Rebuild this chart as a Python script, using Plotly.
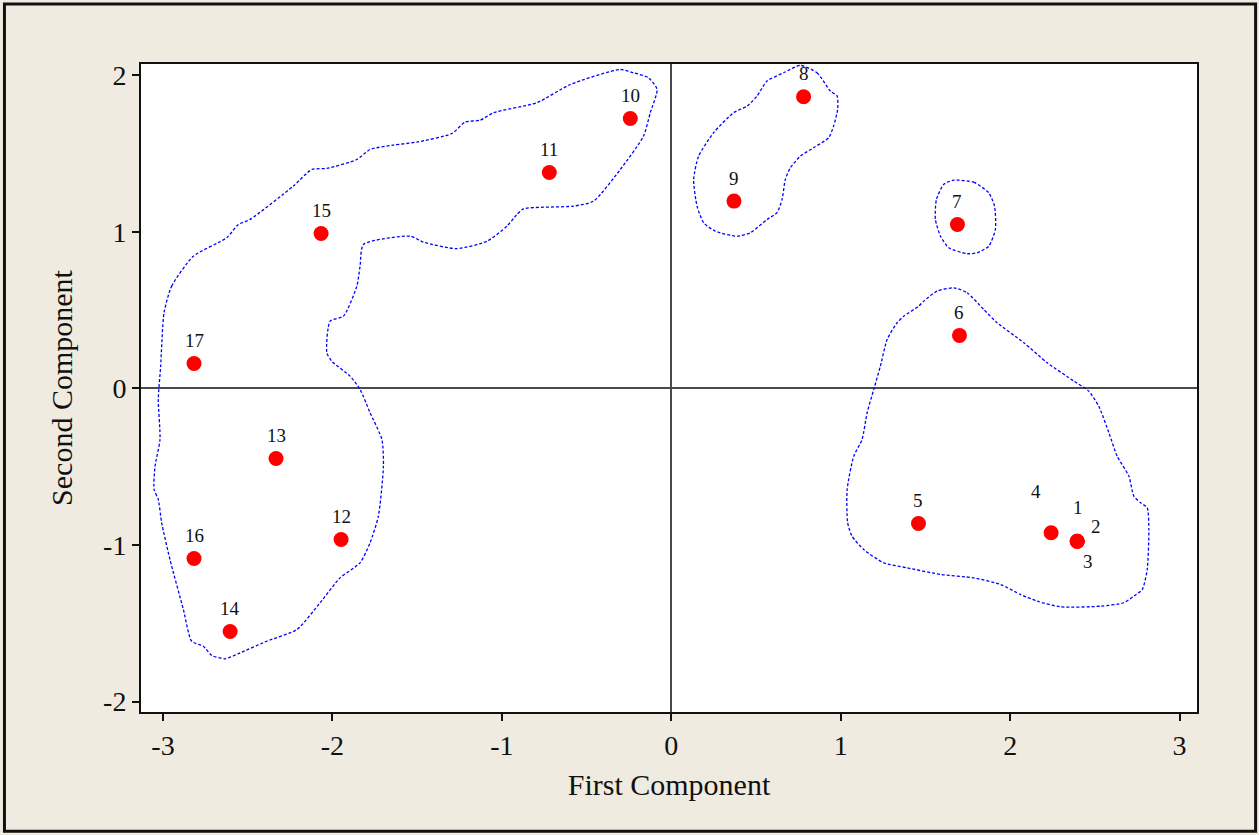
import plotly.graph_objects as go

# ---- data -------------------------------------------------------------
labels = ["1", "2", "3", "4", "5", "6", "7", "8", "9", "10",
          "11", "12", "13", "14", "15", "16", "17"]
first_comp = [2.396, 2.396, 2.396, 2.242, 1.459, 1.701, 1.689, 0.781, 0.370, -0.242,
              -0.720, -1.949, -2.333, -2.604, -2.067, -2.817, -2.817]
second_comp = [-0.976, -0.976, -0.976, -0.922, -0.863, 0.339, 1.048, 1.864, 1.197, 1.725,
               1.380, -0.965, -0.447, -1.553, 0.990, -1.086, 0.160]

# cluster outlines (data units)
left_x = [-2.994, -2.949, -2.821, -2.624, -2.555, -2.486, -2.231, -2.122, -2.033, -1.856,
          -1.778, -1.640, -1.502, -1.295, -1.217, -1.128, -1.049, -0.793, -0.596, -0.301,
          -0.223, -0.134, -0.084, -0.124, -0.164, -0.301, -0.459, -0.577, -0.872, -0.911,
          -0.970, -1.088, -1.266, -1.463, -1.541, -1.817, -1.837, -1.856, -1.935, -2.014,
          -2.033, -2.004, -1.896, -1.837, -1.778, -1.708, -1.699, -1.729, -1.778, -1.837,
          -1.955, -2.073, -2.210, -2.388, -2.545, -2.634, -2.712, -2.762, -2.831, -2.880,
          -2.959, -3.008, -3.028, -3.053, -3.047, -3.018, -3.028, -3.014]
left_y = [0.484, 0.654, 0.845, 0.963, 1.048, 1.080, 1.293, 1.399, 1.406, 1.463,
          1.527, 1.555, 1.574, 1.629, 1.702, 1.714, 1.762, 1.826, 1.942, 2.038,
          2.017, 1.985, 1.911, 1.762, 1.612, 1.399, 1.197, 1.165, 1.148, 1.112,
          1.037, 0.941, 0.893, 0.935, 0.973, 0.920, 0.781, 0.654, 0.462, 0.430,
          0.228, 0.174, 0.079, -0.006, -0.155, -0.326, -0.496, -0.816, -0.986, -1.114,
          -1.210, -1.369, -1.540, -1.615, -1.689, -1.727, -1.706, -1.647, -1.615, -1.412,
          -1.093, -0.858, -0.709, -0.645, -0.496, -0.326, -0.070, 0.142]

top_x = [0.762, 0.860, 0.939, 0.979, 0.982, 0.958, 0.929, 0.840, 0.762, 0.703,
         0.673, 0.654, 0.624, 0.565, 0.467, 0.388, 0.260, 0.191, 0.152, 0.132,
         0.161, 0.250, 0.368, 0.447, 0.506, 0.565, 0.663]
top_y = [2.064, 2.017, 1.900, 1.868, 1.783, 1.676, 1.602, 1.538, 1.484, 1.410,
         1.335, 1.208, 1.123, 1.080, 0.995, 0.973, 1.005, 1.059, 1.165, 1.335,
         1.484, 1.634, 1.762, 1.804, 1.868, 1.964, 2.017]

small_x = [1.667, 1.785, 1.874, 1.908, 1.913, 1.874, 1.805, 1.746, 1.638, 1.589,
           1.559, 1.565, 1.608]
small_y = [1.331, 1.318, 1.250, 1.165, 1.016, 0.909, 0.867, 0.861, 0.899, 0.973,
           1.080, 1.208, 1.304]

right_x = [1.667, 1.746, 1.844, 1.923, 2.081, 2.219, 2.376, 2.464, 2.523, 2.583,
           2.632, 2.701, 2.730, 2.770, 2.809, 2.819, 2.809, 2.780, 2.730, 2.671,
           2.534, 2.297, 2.160, 2.061, 1.943, 1.785, 1.589, 1.392, 1.254, 1.136,
           1.067, 1.041, 1.038, 1.077, 1.126, 1.156, 1.195, 1.234, 1.274, 1.333,
           1.372, 1.461, 1.490, 1.569]
right_y = [0.643, 0.612, 0.505, 0.420, 0.292, 0.164, 0.047, -0.017, -0.113, -0.283,
           -0.433, -0.560, -0.688, -0.730, -0.762, -0.901, -1.157, -1.284, -1.327, -1.369,
           -1.391, -1.395, -1.359, -1.316, -1.252, -1.210, -1.188, -1.146, -1.114, -1.029,
           -0.944, -0.858, -0.645, -0.433, -0.326, -0.155, -0.006, 0.142, 0.313, 0.420,
           0.462, 0.526, 0.558, 0.622]

x_ticks = [-3, -2, -1, 0, 1, 2, 3]
y_ticks = [-2, -1, 0, 1, 2]

# label offsets in pixels (style)
label_shift = {"1": (1, 34), "2": (19, 15), "3": (11, -20), "4": (-15, 41)}

SERIF = "Liberation Serif, Times New Roman, serif"

fig = go.Figure()

for cx, cy in [(left_x, left_y), (top_x, top_y), (small_x, small_y), (right_x, right_y)]:
    fig.add_trace(go.Scatter(
        x=cx + cx[:1], y=cy + cy[:1], mode="lines",
        line=dict(color="#0000FF", width=1.3, dash="3px,2px", shape="spline", smoothing=0.6),
        hoverinfo="skip", showlegend=False))

fig.add_trace(go.Scatter(
    x=first_comp, y=second_comp, mode="markers",
    marker=dict(color="#FF0000", size=15, line=dict(width=0)),
    text=labels, hoverinfo="text", showlegend=False))

for lab, xv, yv in zip(labels, first_comp, second_comp):
    dx, dy = label_shift.get(lab, (0, 23))
    fig.add_annotation(x=xv, y=yv, text=lab, showarrow=False,
                       xshift=dx, yshift=dy,
                       font=dict(family=SERIF, size=19, color="#111111"))

fig.add_shape(type="rect", xref="paper", yref="paper",
              x0=-0.1293, x1=1.0555, y0=-0.1840, y1=1.0926,
              line=dict(color="#111111", width=3), fillcolor="rgba(0,0,0,0)", layer="below")

axis_common = dict(
    showgrid=False, zeroline=True, zerolinecolor="#4a4a4a", zerolinewidth=2,
    showline=True, mirror=True, linecolor="#111111", linewidth=2,
    ticks="outside", ticklen=7, tickwidth=2, tickcolor="#111111",
    tickfont=dict(family=SERIF, size=28, color="#111111"),
)

fig.update_layout(
    width=1259, height=835, autosize=False,
    margin=dict(l=141, r=62, t=64, b=123, pad=0),
    paper_bgcolor="#EFEBE0", plot_bgcolor="#FFFFFF",
    xaxis=dict(range=[-3.13, 3.103], tickvals=x_ticks, ticktext=[str(v) for v in x_ticks],
               title=dict(text="First Component", font=dict(family=SERIF, size=30, color="#111111"),
                          standoff=14),
               **axis_common),
    yaxis=dict(range=[-2.067, 2.073], tickvals=y_ticks, ticktext=[str(v) for v in y_ticks],
               title=dict(text="Second Component", font=dict(family=SERIF, size=30, color="#111111"),
                          standoff=22),
               **axis_common),
)

fig.write_html("out.html")
